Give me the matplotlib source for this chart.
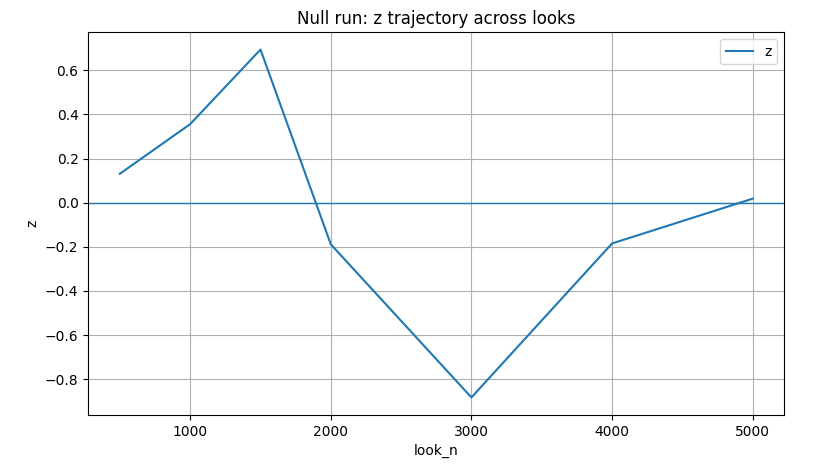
import matplotlib
matplotlib.use("Agg")
import matplotlib.pyplot as plt

# values
look_n = [500, 1000, 1500, 2000, 3000, 4000, 5000]
z = [0.131, 0.356, 0.694, -0.189, -0.883, -0.185, 0.018]

fig, ax = plt.subplots(figsize=(8.17, 4.73), dpi=100)
fig.subplots_adjust(left=0.108, right=0.96, top=0.932, bottom=0.123)

ax.plot(look_n, z, label="z")
ax.axhline(0, linewidth=1)
ax.set_title("Null run: z trajectory across looks")
ax.set_xlabel("look_n")
ax.set_ylabel("z")
ax.grid(True)
ax.legend()

plt.savefig("out.png", dpi=100)
